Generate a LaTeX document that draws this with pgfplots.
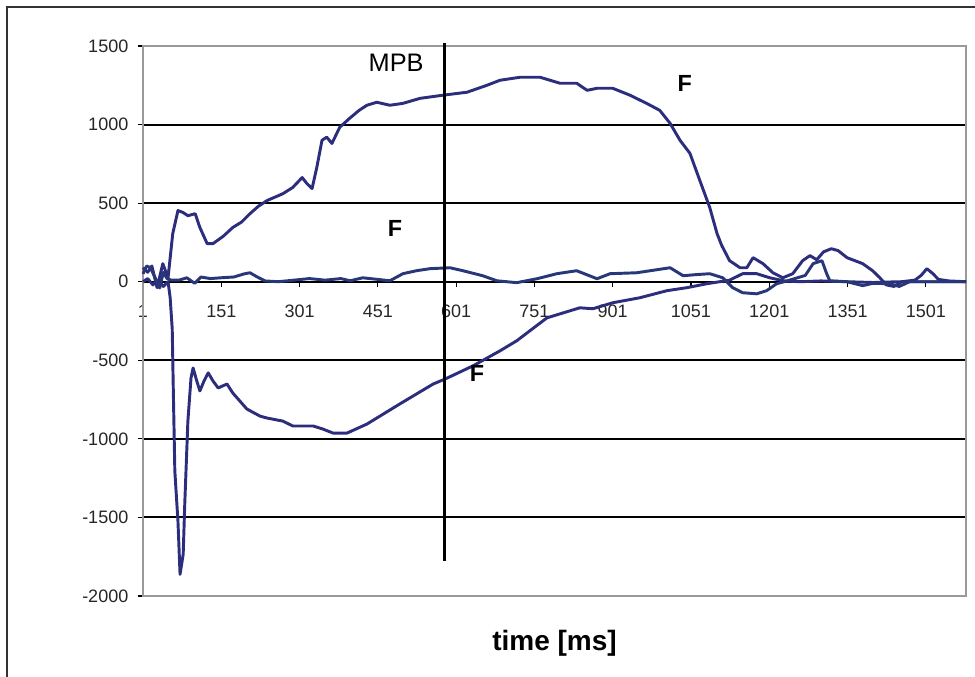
\documentclass[border=0pt]{standalone}
\usepackage{pgfplots}
\pgfplotsset{compat=1.18}
\usepackage{fontspec}
\setmainfont{Liberation Sans}
\definecolor{navyline}{RGB}{45,45,125}
\definecolor{navyline2}{RGB}{40,55,120}
\begin{document}
\begin{tikzpicture}
\path[use as bounding box] (-107.25pt,-60pt) rectangle (624pt,447pt);
\draw[line width=1.1pt, black!80] (-102pt,-80pt) -- (-102pt,441.75pt) -- (640pt,441.75pt);
\begin{axis}[
 at={(0pt,0pt)}, anchor=south west,
 scale only axis, width=617.25pt, height=412.5pt,
 xmin=1, xmax=1578, ymin=-2000, ymax=1500,
 axis x line=middle, axis y line=left,
 axis line style={-, line width=1.2pt, black},
 hide obscured x ticks=false, hide obscured y ticks=false,
 xtick={1,151,301,451,601,751,901,1051,1201,1351,1501},
 ytick={-2000,-1500,-1000,-500,0,500,1000,1500},
 tick align=outside,
 major tick length=4pt,
 tick style={black, line width=0.8pt},
 ymajorgrids, grid style={black, line width=1.5pt},
 scaled ticks=false,
 /pgf/number format/assume math mode=true,
 /pgf/number format/set thousands separator={},
 tick label style={font=\fontsize{13.5}{16}\selectfont, text=black!85},
 xticklabel style={yshift=-10pt},
 yticklabel style={xshift=-3.5pt},
 clip=false,
]
\draw[gray!80, line width=0.9pt] (rel axis cs:0,0) rectangle (rel axis cs:1,1);
% upper curve
\addplot[navyline, line width=2.2pt, mark=none, line join=round] coordinates {
(1,89)(10,60)(18,100)(28,-38)(39,115)(49,25)(58,306)(68,453)(78,440)(87,420)(101,433)(110,345)(124,242)(135,242)(155,290)(173,345)(190,380)(206,433)(222,480)(239,517)(255,540)(269,560)(288,600)(306,663)(315,625)(325,593)(334,727)(344,900)(353,920)(363,880)(378,983)(397,1040)(415,1090)(430,1123)(449,1142)(474,1123)(499,1135)(532,1167)(576,1187)(622,1206)(660,1250)(685,1282)(723,1301)(762,1301)(800,1263)(832,1263)(852,1218)(871,1231)(901,1231)(934,1187)(966,1135)(991,1091)(1011,1008)(1030,900)(1049,817)(1068,644)(1087,472)(1101,306)(1110,230)(1125,134)(1145,89)(1158,89)(1170,153)(1189,115)(1208,57)(1227,25)(1246,51)(1265,134)(1279,166)(1292,140)(1305,190)(1320,210)(1333,198)(1350,153)(1380,115)(1399,70)(1413,25)(1425,-20)(1440,-30)(1455,0)(1480,10)(1492,40)(1503,83)(1515,50)(1525,15)(1545,5)(1578,0)
};
% lower curve
\addplot[navyline, line width=2.2pt, mark=none, line join=round] coordinates {
(1,0)(10,20)(20,-20)(30,10)(40,-30)(49,0)(53,-100)(57,-300)(59,-676)(62,-1205)(68,-1525)(72,-1862)(78,-1735)(81,-1416)(87,-887)(93,-612)(97,-549)(104,-631)(110,-695)(118,-631)(126,-580)(135,-631)(145,-676)(162,-651)(173,-708)(200,-810)(225,-855)(238,-867)(269,-887)(288,-918)(327,-918)(346,-938)(365,-963)(392,-963)(430,-906)(493,-778)(557,-651)(580,-619)(633,-536)(685,-440)(717,-376)(775,-230)(838,-166)(863,-172)(901,-134)(953,-102)(1005,-57)(1043,-38)(1081,-13)(1106,0)(1125,10)(1150,51)(1177,51)(1202,25)(1230,5)(1260,0)(1300,5)(1350,0)(1400,-5)(1450,0)(1578,0)
};
% near-zero curve
\addplot[navyline2, line width=2.2pt, mark=none, line join=round] coordinates {
(1,50)(8,100)(15,90)(25,20)(33,-40)(40,60)(47,20)(55,10)(70,10)(85,25)(100,-10)(112,30)(130,20)(150,25)(175,30)(195,50)(206,57)(220,30)(235,5)(260,0)(290,10)(320,20)(350,10)(380,20)(398,6)(422,25)(450,15)(474,6)(499,51)(525,70)(551,83)(589,89)(614,70)(652,38)(679,6)(717,-6)(756,19)(794,51)(832,70)(871,19)(896,51)(947,57)(1011,89)(1036,38)(1060,45)(1087,51)(1112,25)(1131,-38)(1150,-70)(1177,-77)(1196,-57)(1215,-13)(1240,10)(1270,40)(1285,115)(1302,134)(1311,51)(1317,6)(1350,0)(1380,-25)(1400,-10)(1432,-13)(1450,-30)(1470,0)(1500,0)(1578,0)
};
% MPB line
\addplot[black, line width=2.3pt, mark=none] coordinates {(578,1520)(578,-1775)};
\node[font=\fontsize{19}{22}\selectfont] at (axis cs:486,1392) {MPB};
\node[font=\bfseries\fontsize{17.5}{20}\selectfont] at (axis cs:1039,1264) {F};
\node[font=\bfseries\fontsize{17.5}{20}\selectfont] at (axis cs:484,338) {F};
\node[font=\bfseries\fontsize{17.5}{20}\selectfont] at (axis cs:641,-581) {F};
\node[font=\bfseries\fontsize{21}{24}\selectfont, yshift=-35.25pt] at (rel axis cs:0.5,0) {time [ms]};
\end{axis}
\end{tikzpicture}
\end{document}
